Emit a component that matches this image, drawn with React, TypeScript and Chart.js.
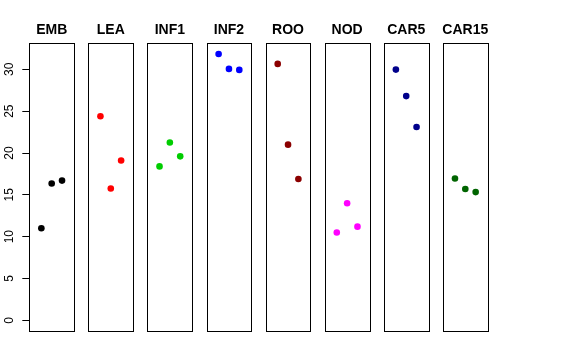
import React, { useEffect, useRef } from "react";
import { Chart, registerables } from "chart.js";

Chart.register(...registerables);

const categories = ["EMB", "LEA", "INF1", "INF2", "ROO", "NOD", "CAR5", "CAR15"];
const embValues = [11.0, 16.35, 16.7];
const leaValues = [24.4, 15.75, 19.1];
const inf1Values = [18.4, 21.25, 19.6];
const inf2Values = [31.84, 30.05, 29.93];
const rooValues = [30.65, 21.0, 16.9];
const nodValues = [10.5, 14.0, 11.2];
const car5Values = [29.97, 26.8, 23.1];
const car15Values = [16.95, 15.7, 15.33];
const seriesValues = [embValues, leaValues, inf1Values, inf2Values, rooValues, nodValues, car5Values, car15Values];
const colors = ["#000000", "#FF0000", "#00CD00", "#0000FF", "#8B0000", "#FF00FF", "#00008B", "#006400"];
const yTicks = [0, 5, 10, 15, 20, 25, 30];

const PANEL_STEP = 5.714;
const PANEL_HALF = 2.165;
const FONT = "'Liberation Sans', Arial, Helvetica, sans-serif";

const panelsPlugin = {
  id: "panels",
  afterDatasetsDraw(chart: any) {
    const { ctx, chartArea, scales } = chart;
    const xs = scales.x;
    ctx.save();
    ctx.strokeStyle = "#000";
    ctx.lineWidth = 1;
    categories.forEach((name, i) => {
      const c = i * PANEL_STEP;
      const l = Math.round(xs.getPixelForValue(c - PANEL_HALF)) + 0.5;
      const r = Math.round(xs.getPixelForValue(c + PANEL_HALF)) + 0.5;
      const t = Math.round(chartArea.top) + 0.5;
      const b = Math.round(chartArea.bottom) + 0.5;
      ctx.strokeRect(l, t, r - l, b - t);
      ctx.fillStyle = "#000";
      ctx.font = `bold 14px ${FONT}`;
      ctx.textAlign = "center";
      ctx.textBaseline = "alphabetic";
      ctx.fillText(name, xs.getPixelForValue(c), 34);
    });
    ctx.restore();
  },
};

export default function App() {
  const ref = useRef<HTMLCanvasElement | null>(null);
  useEffect(() => {
    if (!ref.current) return;
    const datasets = seriesValues.map((vals, i) => ({
      label: categories[i],
      data: vals.map((v, j) => ({ x: i * PANEL_STEP + (j - 1), y: v })),
      backgroundColor: colors[i],
      borderColor: colors[i],
      pointRadius: 3.3,
      pointBorderWidth: 0,
      showLine: false,
    }));
    const chart = new Chart(ref.current, {
      type: "scatter",
      data: { datasets },
      plugins: [panelsPlugin],
      options: {
        animation: false,
        responsive: false,
        devicePixelRatio: 1,
        layout: { padding: { left: 0, top: 43.3, right: 88.3, bottom: 29 } },
        plugins: { legend: { display: false }, tooltip: { enabled: false }, title: { display: false } },
        scales: {
          x: {
            type: "linear",
            display: false,
            min: -PANEL_HALF,
            max: 7 * PANEL_STEP + PANEL_HALF,
          },
          y: {
            type: "linear",
            min: -1.27,
            max: 33.11,
            afterFit: (s: any) => {
              s.width = 29.3;
            },
            afterBuildTicks: (s: any) => {
              s.ticks = yTicks.map((v) => ({ value: v }));
            },
            grid: {
              drawOnChartArea: false,
              drawTicks: true,
              tickLength: 7,
              color: "#000",
            },
            border: { display: false },
            ticks: {
              color: "#000",
              font: { family: FONT, size: 12 },
              minRotation: 90,
              maxRotation: 90,
              crossAlign: "center",
              padding: 6,
              callback: (v: any) => String(v),
            },
          },
        },
      },
    } as any);
    return () => chart.destroy();
  }, []);
  return (
    <div style={{ position: "fixed", left: 0, top: 0, width: 576, height: 360, background: "#fff" }}>
      <canvas ref={ref} width={576} height={360} style={{ display: "block" }} />
    </div>
  );
}
